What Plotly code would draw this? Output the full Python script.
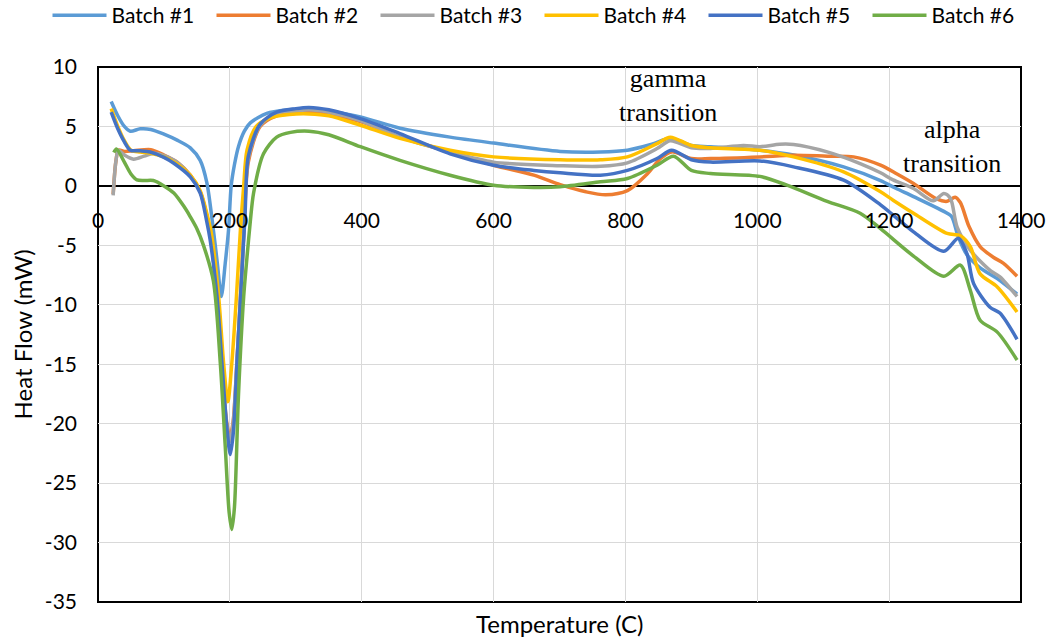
import plotly.graph_objects as go

# ---- data (temperature in C, heat flow in mW) ----
t1 = [20, 30, 40, 49, 64, 80, 100, 120, 140, 155, 165, 175, 181, 187, 193, 198, 202, 207, 213, 222, 231, 256, 290, 320, 350, 398, 458, 534, 600, 701, 762, 803, 840, 868, 900, 929, 1004, 1055, 1131, 1187, 1210, 1237, 1288, 1295, 1305, 1318, 1338, 1364, 1394]
v1 = [7.1, 5.9, 5.0, 4.6, 4.8, 4.75, 4.35, 3.85, 3.2, 2.15, 0.3, -3.7, -6.5, -9.3, -6.5, -3.7, 0.0, 1.8, 3.3, 4.6, 5.3, 6.1, 6.4, 6.5, 6.3, 5.8, 4.85, 4.1, 3.6, 2.9, 2.85, 3.0, 3.5, 4.0, 3.4, 3.3, 3.0, 2.6, 1.6, 0.45, -0.2, -0.9, -2.3, -2.6, -4.3, -5.8, -6.9, -7.8, -9.1]

t2 = [23, 27, 31, 40, 54, 80, 100, 120, 140, 155, 165, 172, 180, 188, 195, 200, 205, 211, 217, 222, 228, 246, 271, 300, 320, 350, 398, 458, 534, 600, 661, 701, 740, 770, 803, 833, 853, 870, 900, 929, 1004, 1055, 1106, 1146, 1187, 1212, 1237, 1272, 1288, 1300, 1308, 1321, 1338, 1358, 1373, 1394]
v2 = [-0.7, 2.0, 3.0, 2.9, 2.95, 3.05, 2.6, 2.0, 0.9, -0.5, -2.5, -4.5, -9.5, -15.5, -19.8, -21.2, -19.8, -14.5, -8.5, -3.0, 2.0, 5.0, 5.9, 6.1, 6.2, 6.0, 5.4, 4.1, 2.86, 1.74, 0.9, 0.1, -0.5, -0.75, -0.4, 1.0, 2.3, 2.86, 2.3, 2.3, 2.44, 2.58, 2.5, 2.44, 1.74, 1.0, 0.2, -1.1, -1.3, -0.95, -1.4, -3.4, -5.1, -6.0, -6.5, -7.6]

t3 = [23, 27, 31, 40, 54, 70, 85, 100, 120, 140, 155, 165, 172, 180, 188, 195, 200, 205, 211, 217, 222, 228, 246, 271, 300, 320, 350, 398, 458, 534, 600, 701, 762, 803, 848, 868, 900, 929, 979, 1004, 1034, 1055, 1106, 1156, 1187, 1206, 1237, 1267, 1283, 1293, 1303, 1323, 1353, 1368, 1394]
v3 = [-0.8, 2.0, 3.0, 2.6, 2.25, 2.5, 2.75, 2.55, 2.0, 0.85, -0.5, -2.5, -4.5, -9.5, -15.8, -20.0, -21.5, -20.0, -14.5, -8.5, -3.0, 2.3, 5.1, 6.1, 6.3, 6.4, 6.2, 5.5, 4.1, 2.86, 2.0, 1.7, 1.65, 1.94, 3.14, 3.8, 3.2, 3.15, 3.4, 3.3, 3.5, 3.48, 2.86, 1.88, 1.1, 0.5, -0.22, -1.26, -0.64, -1.06, -3.44, -5.4, -7.1, -7.65, -9.3]

t4 = [20, 30, 40, 50, 64, 80, 100, 120, 140, 155, 165, 172, 183, 190.5, 197, 203, 210, 216, 221, 226, 240, 260, 290, 320, 350, 398, 458, 534, 600, 701, 762, 803, 848, 868, 900, 929, 1004, 1055, 1131, 1187, 1206, 1237, 1288, 1308, 1323, 1338, 1364, 1394]
v4 = [6.5, 5.0, 3.8, 3.0, 2.85, 2.75, 2.45, 1.85, 0.9, -0.4, -2.3, -4.0, -9.3, -14.9, -18.15, -14.9, -9.3, -3.7, 0.0, 3.0, 5.0, 5.7, 6.0, 6.05, 5.9, 5.1, 4.0, 3.0, 2.44, 2.2, 2.2, 2.44, 3.56, 4.1, 3.4, 3.2, 3.0, 2.44, 1.18, -0.5, -1.2, -2.3, -4.0, -4.2, -5.1, -7.4, -8.5, -10.6]

t5 = [20, 30, 40, 49, 64, 79, 100, 115, 140, 155, 165, 170, 180.5, 188, 195.7, 200.7, 205.7, 210.8, 217, 223, 228, 246, 271, 300, 320, 350, 398, 458, 534, 600, 661, 701, 762, 803, 848, 870, 900, 929, 1004, 1055, 1131, 1187, 1237, 1283, 1305, 1318, 1328, 1353, 1368, 1394]
v5 = [6.2, 4.8, 3.7, 3.0, 2.95, 2.85, 2.4, 1.9, 0.76, -0.6, -3.0, -4.5, -9.3, -14.9, -20.5, -22.6, -20.5, -14.9, -8.5, -2.5, 2.5, 5.2, 6.2, 6.5, 6.6, 6.4, 5.66, 4.4, 2.7, 1.74, 1.3, 1.1, 0.9, 1.3, 2.3, 3.0, 2.2, 2.0, 2.1, 1.6, 0.48, -1.6, -3.87, -5.5, -4.4, -5.7, -8.2, -10.2, -10.7, -12.9]

t6 = [24, 28, 40, 50, 59, 70, 84, 100, 115, 130, 140, 150, 160, 175, 185.5, 193, 199, 203, 207, 213, 221, 226, 231, 236, 251, 271, 292, 320, 350, 398, 458, 534, 600, 661, 701, 762, 803, 848, 873, 900, 929, 1004, 1045, 1106, 1156, 1187, 1237, 1283, 1308, 1323, 1338, 1364, 1394]
v6 = [2.8, 3.1, 2.0, 1.0, 0.5, 0.45, 0.45, 0.0, -0.6, -1.7, -2.6, -3.6, -5.0, -8.0, -14.9, -21.9, -27.5, -28.9, -27.0, -17.7, -9.3, -6.0, -3.0, -0.6, 2.7, 4.1, 4.5, 4.6, 4.3, 3.3, 2.15, 0.9, 0.06, -0.13, -0.08, 0.34, 0.62, 1.74, 2.5, 1.3, 1.04, 0.8, 0.06, -1.3, -2.3, -3.6, -5.9, -7.6, -6.66, -8.76, -11.3, -12.3, -14.65]

series_names = ["Batch #1", "Batch #2", "Batch #3", "Batch #4", "Batch #5", "Batch #6"]
series_colors = ["#5B9BD5", "#ED7D31", "#A5A5A5", "#FFC000", "#4472C4", "#70AD47"]
x_ticks = [0, 200, 400, 600, 800, 1000, 1200, 1400]
y_ticks = [10, 5, 0, -5, -10, -15, -20, -25, -30, -35]

temps = [t1, t2, t3, t4, t5, t6]
flows = [v1, v2, v3, v4, v5, v6]

FONT = "Lato"
W, H = 1052, 640
ML, MR, MT, MB = 98, 31, 67, 38
PW, PH = W - ML - MR, H - MT - MB

fig = go.Figure()
for name, col, tx, vy in zip(series_names, series_colors, temps, flows):
    fig.add_trace(go.Scatter(
        x=tx, y=vy, name=name, mode="lines",
        line=dict(color=col, width=3.5, shape="spline", smoothing=0.8),
    ))

fig.update_layout(
    width=W, height=H,
    margin=dict(l=ML, r=MR, t=MT, b=MB, autoexpand=False),
    paper_bgcolor="white", plot_bgcolor="white",
    font=dict(family=FONT, color="black", size=21),
    showlegend=True,
    legend=dict(
        orientation="h", xref="paper", yref="paper",
        x=(47.5 - ML) / PW, y=1 + (MT + 5) / PH, xanchor="left", yanchor="top",
        entrywidth=95, entrywidthmode="pixels", itemwidth=54,
        font=dict(family=FONT, size=21, color="black"),
        bgcolor="rgba(0,0,0,0)", tracegroupgap=0,
    ),
    xaxis=dict(
        range=[0, 1400], tickvals=x_ticks, ticktext=[str(v) for v in x_ticks],
        showgrid=True, gridcolor="#d9d9d9", gridwidth=1,
        zeroline=False, showline=False, ticks="",
        anchor="free", position=35 / 45,
        ticklabelstandoff=20,
        tickfont=dict(family=FONT, size=21, color="black"),
    ),
    yaxis=dict(
        range=[-35, 10], tickvals=y_ticks, ticktext=[str(v) for v in y_ticks],
        showgrid=True, gridcolor="#d9d9d9", gridwidth=1,
        zeroline=True, zerolinecolor="black", zerolinewidth=1.5,
        showline=False, ticks="", ticklabelstandoff=20,
        tickfont=dict(family=FONT, size=21, color="black"),
    ),
    shapes=[dict(type="rect", xref="paper", yref="paper", x0=0, x1=1, y0=0, y1=1,
                 line=dict(color="black", width=2), layer="below")],
    annotations=[
        dict(text="Temperature (C)", xref="paper", yref="paper", x=0.5, y=-0.04,
             xanchor="center", yanchor="middle", showarrow=False,
             font=dict(family=FONT, size=24, color="black")),
        dict(text="Heat Flow (mW)", xref="paper", yref="paper", x=-0.0813, y=0.5,
             xanchor="center", yanchor="middle", textangle=-90, showarrow=False,
             font=dict(family=FONT, size=24, color="black")),
        dict(text="gamma<br>transition", xref="x", yref="y", x=865, y=7.6, showarrow=False,
             xanchor="center", yanchor="middle", align="center",
             font=dict(family="Liberation Serif", size=26, color="black")),
        dict(text="alpha<br>transition", xref="x", yref="y", x=1296, y=3.3, showarrow=False,
             xanchor="center", yanchor="middle", align="center",
             font=dict(family="Liberation Serif", size=26, color="black")),
    ],
)

fig.write_html("out.html")
